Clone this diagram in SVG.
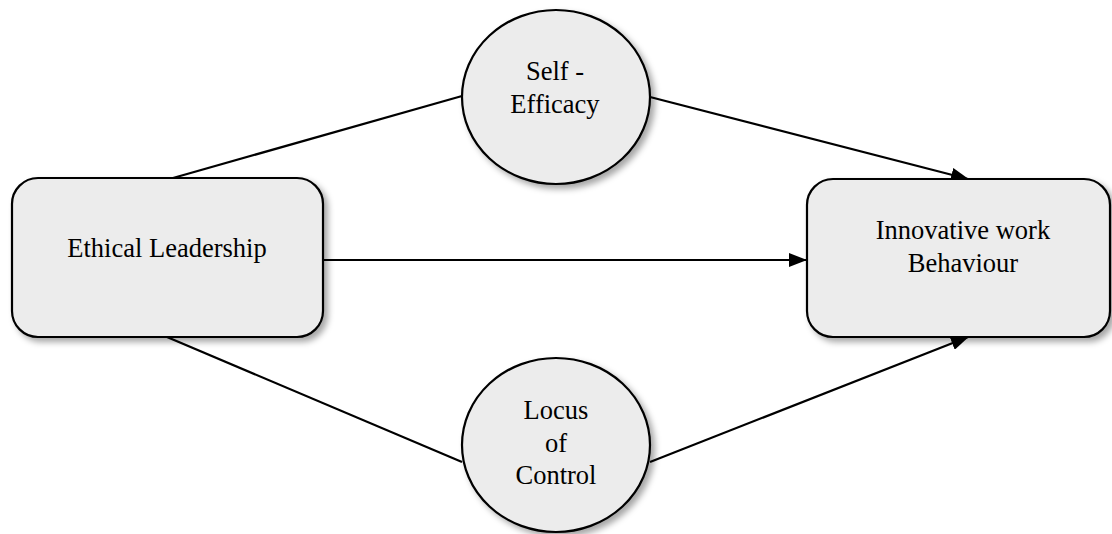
<svg xmlns="http://www.w3.org/2000/svg" width="1112" height="534" viewBox="0 0 1112 534">
<style>
.node{fill:#ececec;stroke:#000;stroke-width:2.2;filter:url(#sh)}
.lbl{font-family:"Liberation Serif","Times New Roman",serif;font-size:26.5px;fill:#000;text-anchor:middle}
.conn{stroke:#000;stroke-width:2.2;fill:none}
</style>
<defs>
<filter id="sh" x="-10%" y="-10%" width="130%" height="130%">
<feDropShadow dx="4" dy="4" stdDeviation="3" flood-color="#000" flood-opacity="0.35"/>
</filter>
<marker id="arr" markerWidth="18" markerHeight="14" refX="17" refY="7" orient="auto" markerUnits="userSpaceOnUse">
<path d="M0,0 L18,7 L0,14 Z" fill="#000"/>
</marker>
</defs>
<g id="connectors">
<line class="conn" x1="173" y1="178" x2="462" y2="96"/>
<line class="conn" x1="650" y1="97" x2="968" y2="179" marker-end="url(#arr)"/>
<line class="conn" x1="323" y1="260" x2="806" y2="260" marker-end="url(#arr)"/>
<line class="conn" x1="167" y1="337" x2="462" y2="462"/>
<line class="conn" x1="650" y1="462" x2="968" y2="337" marker-end="url(#arr)"/>
</g>
<g id="ethical">
<rect class="node" x="12" y="178" width="311" height="159" rx="26" ry="26"/>
<text class="lbl" x="167" y="257">Ethical Leadership</text>
</g>
<g id="innovative">
<rect class="node" x="807" y="179" width="303" height="158" rx="26" ry="26"/>
<text class="lbl" x="963" y="239">Innovative work</text>
<text class="lbl" x="963" y="272">Behaviour</text>
</g>
<g id="selfefficacy">
<ellipse class="node" cx="556" cy="97" rx="94" ry="87"/>
<text class="lbl" x="555" y="80">Self -</text>
<text class="lbl" x="555" y="113">Efficacy</text>
</g>
<g id="locus">
<ellipse class="node" cx="556" cy="445" rx="94" ry="87"/>
<text class="lbl" x="556" y="419">Locus</text>
<text class="lbl" x="556" y="452">of</text>
<text class="lbl" x="556" y="484">Control</text>
</g>
</svg>
